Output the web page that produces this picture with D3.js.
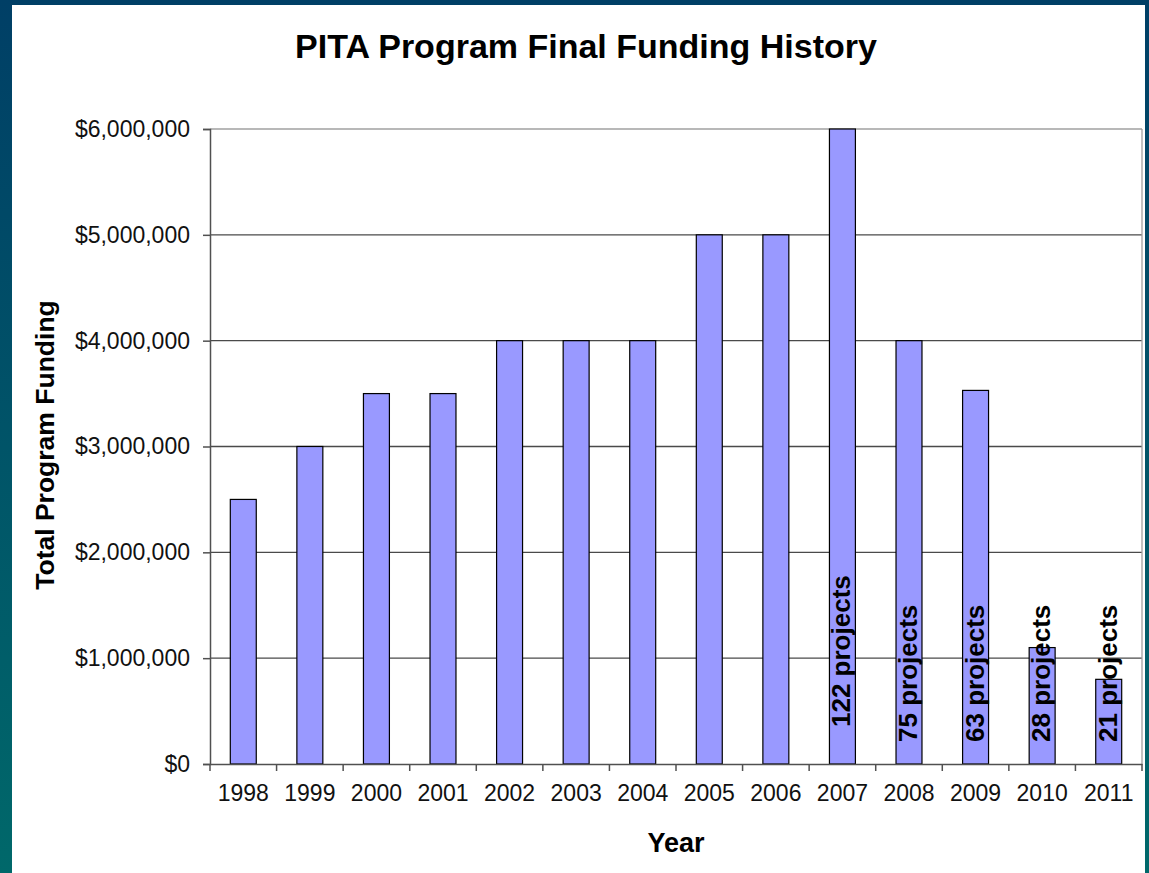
<!DOCTYPE html>
<html>
<head>
<meta charset="utf-8">
<script src="https://cdn.jsdelivr.net/npm/d3@7"></script>
<style>
    body { margin: 0; padding: 0; }
    svg { display: block; }
    text { font-family: Arial, "Liberation Sans", sans-serif; }
</style>
</head>
<body>
<script>
// ======================= DATA =======================
const years = ['1998', '1999', '2000', '2001', '2002', '2003', '2004', '2005', '2006', '2007', '2008', '2009', '2010', '2011']
const funding = [2500000, 3000000, 3500000, 3500000, 4000000, 4000000, 4000000, 5000000, 5000000, 6000000, 4000000, 3530000, 1100000, 800000]
const projectLabels = ['', '', '', '', '', '', '', '', '', '122 projects', '75 projects', '63 projects', '28 projects', '21 projects']
const yTicks = [0, 1000000, 2000000, 3000000, 4000000, 5000000, 6000000]

const W = 1149, H = 873
const margin = { top: 129, right: 7, bottom: 109, left: 210 }
const width = W - margin.left - margin.right
const height = H - margin.top - margin.bottom

const data = years.map((y, i) => ({ year: y, value: funding[i], label: projectLabels[i] }))

const root = d3.select('body').append('svg')
    .attr('width', W)
    .attr('height', H)

// frame background
const defs = root.append('defs')
const grad = defs.append('linearGradient')
    .attr('id', 'bg')
    .attr('x1', 0).attr('y1', 0).attr('x2', 0).attr('y2', 1)
grad.append('stop').attr('offset', '0%').attr('stop-color', '#003f66')
grad.append('stop').attr('offset', '100%').attr('stop-color', '#00686a')

root.append('rect')
    .attr('width', W).attr('height', H)
    .attr('fill', 'url(#bg)')
root.append('rect')
    .attr('x', 12).attr('y', 5)
    .attr('width', 1133).attr('height', H - 5)
    .attr('fill', '#fff')

// title
root.append('text')
    .attr('x', 586)
    .attr('y', 58)
    .attr('text-anchor', 'middle')
    .style('font-size', '34px')
    .style('font-weight', 'bold')
    .text('PITA Program Final Funding History')

const svg = root.append('g')
    .attr('transform', 'translate(' + margin.left + ',' + margin.top + ')')

// =========================================
// =============Scales======================
// =========================================
const x = d3.scaleBand()
    .domain(years)
    .range([0, width])
    .paddingInner(0.61)
    .paddingOuter(0.305)

const xTicks = d3.scaleBand()
    .domain(years)
    .range([0, width])

const y = d3.scaleLinear()
    .domain([0, 6000000])
    .range([height, 0])

// gridlines
svg.append('g')
    .selectAll('line')
    .data(yTicks.slice(1))
    .enter().append('line')
    .attr('x1', 0)
    .attr('x2', width)
    .attr('y1', (d) => y(d))
    .attr('y2', (d) => y(d))
    .attr('stroke', (d) => d === 6000000 ? '#a0a0a0' : '#4a4a4a')
    .attr('stroke-width', 1.3)

// right border
svg.append('line')
    .attr('x1', width).attr('x2', width)
    .attr('y1', 0).attr('y2', height)
    .attr('stroke', '#a0a0a0')
    .attr('stroke-width', 1.3)

// bars
svg.append('g')
    .selectAll('rect')
    .data(data)
    .enter().append('rect')
    .attr('x', (d) => x(d.year))
    .attr('y', (d) => y(d.value))
    .attr('width', x.bandwidth())
    .attr('height', (d) => height - y(d.value))
    .attr('fill', '#9999ff')
    .attr('stroke', '#000')
    .attr('stroke-width', 1.2)

// y axis
const yAxis = svg.append('g')
    .call(d3.axisLeft(y)
        .tickValues(yTicks)
        .tickSize(7)
        .tickPadding(13)
        .tickFormat((d) => '$' + d3.format(',')(d)))
yAxis.select('.domain').attr('stroke', '#505050').attr('stroke-width', 1.5)
yAxis.selectAll('.tick line').attr('stroke', '#505050').attr('stroke-width', 1.5)
yAxis.selectAll('.tick text')
    .style('font-size', '23px')
    .style('font-family', 'Arial, "Liberation Sans", sans-serif')
    .attr('fill', '#111')

// x axis
const xAxis = svg.append('g')
    .attr('transform', 'translate(0,' + height + ')')
    .call(d3.axisBottom(xTicks).tickSize(0).tickPadding(21))
xAxis.select('.domain').attr('stroke', '#505050').attr('stroke-width', 1.5)
xAxis.selectAll('.tick text')
    .style('font-size', '23px')
    .style('font-family', 'Arial, "Liberation Sans", sans-serif')
    .attr('fill', '#111')

// tick marks between categories
svg.append('g')
    .selectAll('line')
    .data(years)
    .enter().append('line')
    .attr('x1', (d) => xTicks(d) + xTicks.bandwidth())
    .attr('x2', (d) => xTicks(d) + xTicks.bandwidth())
    .attr('y1', height)
    .attr('y2', height + 7)
    .attr('stroke', '#505050')
    .attr('stroke-width', 1.5)
svg.append('line')
    .attr('x1', 0).attr('x2', 0)
    .attr('y1', height).attr('y2', height + 7)
    .attr('stroke', '#505050')
    .attr('stroke-width', 1.5)

// project labels
svg.append('g')
    .selectAll('text')
    .data(data.filter((d) => d.label !== ''))
    .enter().append('text')
    .attr('transform', (d) => 'translate(' + (x(d.year) + x.bandwidth() / 2 + 8) + ',' + (d.label.length > 11 ? height - 37 : height - 22) + ') rotate(-90)')
    .attr('text-anchor', 'start')
    .style('font-size', '26px')
    .style('font-weight', 'bold')
    .attr('fill', '#000')
    .text((d) => d.label)

// axis titles
root.append('text')
    .attr('x', margin.left + width / 2)
    .attr('y', 852)
    .attr('text-anchor', 'middle')
    .style('font-size', '27px')
    .style('font-weight', 'bold')
    .text('Year')

root.append('text')
    .attr('transform', 'translate(54,' + 445 + ') rotate(-90)')
    .attr('text-anchor', 'middle')
    .style('font-size', '26.5px')
    .style('font-weight', 'bold')
    .text('Total Program Funding')
</script>
</body>
</html>
